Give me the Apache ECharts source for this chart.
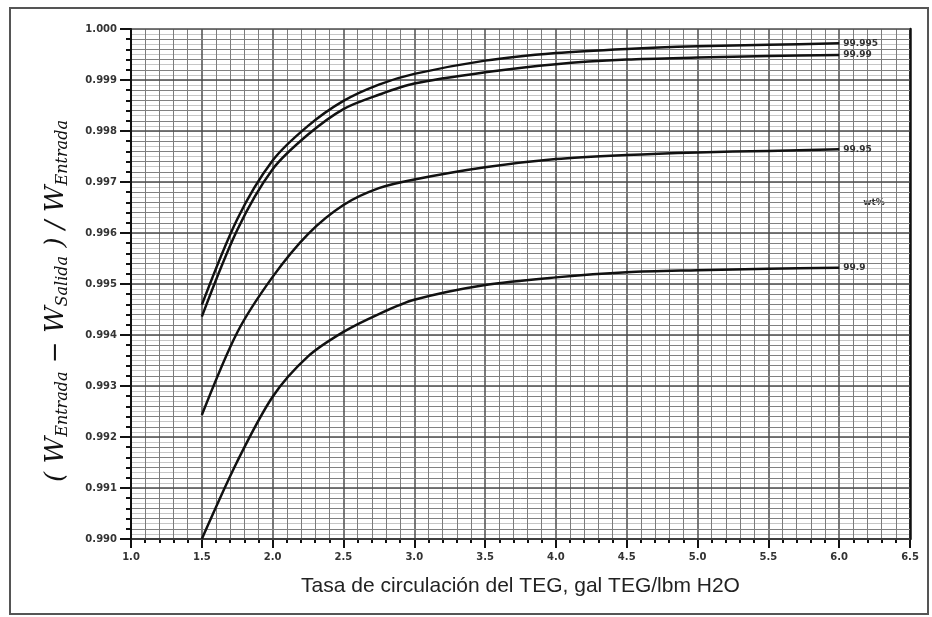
<!DOCTYPE html>
<html>
<head>
<meta charset="utf-8">
<script src="https://cdn.jsdelivr.net/npm/echarts@6/dist/echarts.min.js"></script>
<style>
  html, body { margin: 0; padding: 0; background: #fff; }
  #chart { width: 932px; height: 617px; }
</style>
</head>
<body>
<div id="chart"></div>
<script>
// tasa de circulación (gal TEG/lbm H2O)
const tasa = [1.5, 1.75, 2.0, 2.25, 2.5, 2.75, 3.0, 3.5, 4.0, 4.5, 5.0, 5.5, 6.0]

// fracción removida para cada pureza de TEG (wt%)
const teg99995 = [0.99459, 0.99627, 0.99742, 0.9981, 0.99859, 0.99891, 0.99912, 0.99938, 0.99953, 0.99961, 0.99966, 0.99969, 0.99972]
const teg9999 = [0.99436, 0.99606, 0.99725, 0.99793, 0.99843, 0.99871, 0.99893, 0.99915, 0.99931, 0.9994, 0.99944, 0.99947, 0.99949]
const teg9995 = [0.99243, 0.99405, 0.99514, 0.99598, 0.99655, 0.99688, 0.99705, 0.99729, 0.99745, 0.99753, 0.99758, 0.99761, 0.99764]
const teg999 = [0.9900, 0.99152, 0.99279, 0.99358, 0.99406, 0.99441, 0.99469, 0.99498, 0.99513, 0.99523, 0.99527, 0.9953, 0.99532]

const purezas = ['99.995', '99.99', '99.95', '99.9']
const valores = [teg99995, teg9999, teg9995, teg999]

const chart = echarts.init(document.getElementById('chart'))

const tickFont = { color: '#333', fontSize: 10, fontWeight: 'bold', fontFamily: 'DejaVu Sans' }

const makeSeries = (name, ys) => ({
  name,
  type: 'line',
  yAxisIndex: 1,
  data: tasa.map((x, i) => [x, ys[i]]),
  smooth: 0.3,
  symbol: 'none',
  lineStyle: { color: '#111', width: 2.5 },
  endLabel: {
    show: true,
    formatter: '{a}',
    distance: 4,
    color: '#333',
    fontSize: 9,
    fontWeight: 'bold',
    fontFamily: 'DejaVu Sans',
  },
  z: 5,
})

const option = {
  backgroundColor: '#fff',
  animation: false,
  grid: { left: 131, right: 22, top: 29, bottom: 78 },
  xAxis: {
    type: 'value',
    min: 1.0,
    max: 6.5,
    interval: 0.5,
    name: 'Tasa de circulación del TEG, gal TEG/lbm H2O',
    nameLocation: 'middle',
    nameGap: 37,
    nameTextStyle: { color: '#222', fontSize: 21, fontFamily: 'Liberation Sans' },
    axisLine: { onZero: false, lineStyle: { color: '#111', width: 2 } },
    axisTick: { length: 9, lineStyle: { color: '#111', width: 2 } },
    minorTick: { show: true, splitNumber: 5, length: 4, lineStyle: { color: '#111', width: 2 } },
    axisLabel: { ...tickFont, margin: 13, formatter: (v) => v.toFixed(1) },
    splitLine: { show: true, lineStyle: { color: '#4d4d4d', width: 1.5 } },
    minorSplitLine: { show: true, lineStyle: { color: '#7c7c7c', width: 1 } },
  },
  yAxis: [
    {
      // líneas finas cada 0.0001
      type: 'value',
      min: 0.99,
      max: 1.0,
      interval: 0.0001,
      position: 'right',
      z: 0,
      axisLine: { show: true, lineStyle: { color: '#111', width: 2.5 } },
      axisTick: { show: false },
      axisLabel: { show: false },
      splitLine: { show: true, lineStyle: { color: '#c6c6c6', width: 1 } },
    },
    {
      type: 'value',
      min: 0.99,
      max: 1.0,
      interval: 0.001,
      position: 'left',
      z: 1,
      axisLine: { show: true, onZero: false, lineStyle: { color: '#111', width: 2 } },
      axisTick: { show: true, length: 11, lineStyle: { color: '#111', width: 2 } },
      minorTick: { show: true, splitNumber: 5, length: 5, lineStyle: { color: '#111', width: 2 } },
      axisLabel: { ...tickFont, margin: 14, formatter: (v) => v.toFixed(3) },
      splitLine: { show: true, lineStyle: { color: '#4d4d4d', width: 1.5 } },
      minorSplitLine: { show: true, lineStyle: { color: '#808080', width: 1 } },
    },
  ],
  series: purezas.map((p, i) => makeSeries(p, valores[i])),
  graphic: [
    {
      type: 'rect',
      shape: { x: 10, y: 8, width: 918, height: 606 },
      style: { fill: 'none', stroke: '#555', lineWidth: 2 },
      z: -1,
      silent: true,
    },
    {
      type: 'text',
      x: 874,
      y: 203,
      style: {
        text: 'wt%',
        fill: '#333',
        font: 'bold 9px "DejaVu Sans"',
        align: 'center',
        verticalAlign: 'middle',
      },
    },
    {
      type: 'text',
      x: 56,
      y: 301,
      rotation: Math.PI / 2,
      style: {
        text: '{w|( W}{sub|Entrada}{w| − W}{sub|Salida}{w| ) / W}{sub|Entrada}',
        align: 'center',
        verticalAlign: 'middle',
        rich: {
          w: {
            fontFamily: 'DejaVu Serif',
            fontStyle: 'italic',
            fontSize: 26,
            lineHeight: 30,
            fill: '#111',
          },
          sub: {
            fontFamily: 'DejaVu Serif',
            fontStyle: 'italic',
            fontSize: 16,
            lineHeight: 22,
            verticalAlign: 'bottom',
            fill: '#111',
          },
        },
      },
    },
  ],
}

chart.setOption(option)
</script>
</body>
</html>
